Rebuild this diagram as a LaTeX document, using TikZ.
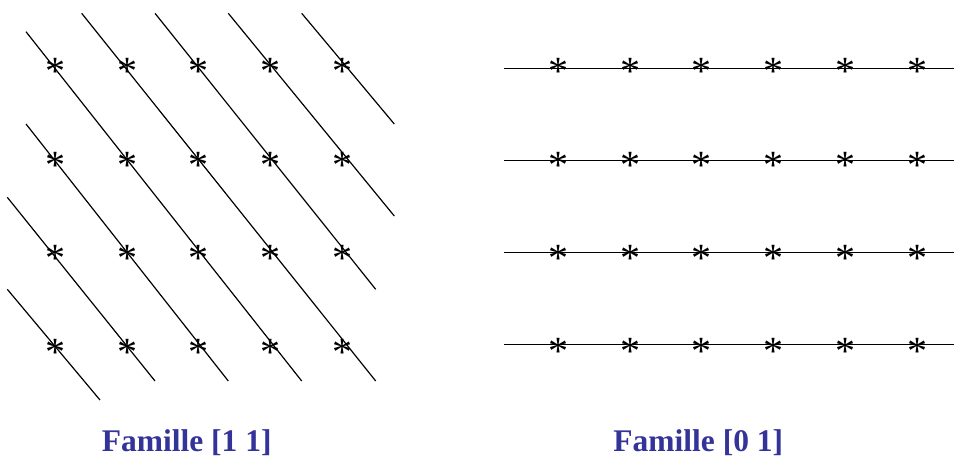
\documentclass[tikz,border=0pt]{standalone}
\usepackage{fontspec}
\setmainfont{Liberation Serif}
\definecolor{titleblue}{RGB}{51,51,153}
\tikzset{
  star/.style={inner sep=0pt, anchor=base, font=\fontsize{40}{44}\selectfont},
  latline/.style={line width=1.2pt, black},
  famtitle/.style={inner sep=0pt, anchor=base, text=titleblue, font=\fontsize{31.5}{36}\selectfont\bfseries}
}
\begin{document}
\begin{tikzpicture}[x=1pt,y=-1pt]
\useasboundingbox (0,0) rectangle (954,458);
% left family [1 1]
\draw[latline] (26,31.7) -- (301.7,381);
\draw[latline] (81.7,13.3) -- (375.7,381);
\draw[latline] (155,13.3) -- (375.7,289.3);
\draw[latline] (228.3,13.3) -- (394.3,216);
\draw[latline] (301.7,13.3) -- (394.3,124);
\draw[latline] (26,124) -- (228.3,381);
\draw[latline] (7.3,197.3) -- (155,381);
\draw[latline] (7.3,289.3) -- (100,400);
\foreach \x [count=\i] in {55.3,127,198.5,270.5,342.3}
  \foreach \y [count=\j] in {65.5,160,253,346.7}
    \node[star] (L\i\j) at (\x,\y+18.8) {*};
% right family [0 1]
\draw[latline] (504,68.5) -- (954,68.5);
\draw[latline] (504,160.5) -- (954,160.5);
\draw[latline] (504,252.5) -- (954,252.5);
\draw[latline] (504,344.5) -- (954,344.5);
\foreach \x [count=\i] in {558,630,701.7,773.3,845.7,917.3}
  \foreach \y [count=\j] in {66,160,252.7,345.7}
    \node[star] (R\i\j) at (\x,\y+18.8) {*};
% titles
\node[famtitle] (t1) at (186.7,451) {Famille [1 1]};
\node[famtitle] (t2) at (698.3,451) {Famille [0 1]};
\end{tikzpicture}
\end{document}
